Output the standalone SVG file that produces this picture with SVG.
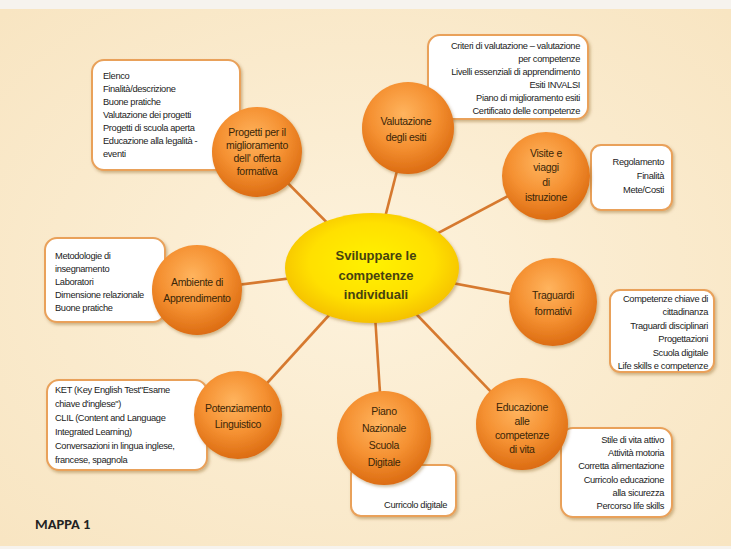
<svg xmlns="http://www.w3.org/2000/svg" width="731" height="549" viewBox="0 0 731 549">
<defs>
<radialGradient id="bg" cx="50%" cy="50%" r="70%">
<stop offset="0" stop-color="#fdf2dc"/>
<stop offset="1" stop-color="#f8e5c2"/>
</radialGradient>
<radialGradient id="orb" cx="45%" cy="35%" r="65%">
<stop offset="0" stop-color="#ffb45e"/>
<stop offset="0.55" stop-color="#f59132"/>
<stop offset="1" stop-color="#dc6c12"/>
</radialGradient>
<radialGradient id="sun" cx="50%" cy="45%" r="60%">
<stop offset="0" stop-color="#fff200"/>
<stop offset="0.6" stop-color="#ffe000"/>
<stop offset="1" stop-color="#f2b800"/>
</radialGradient>
<filter id="sh" x="-20%" y="-20%" width="140%" height="140%">
<feDropShadow dx="1.5" dy="2" stdDeviation="1.5" flood-color="#7a4a10" flood-opacity="0.35"/>
</filter>
</defs>
<style>
.box{fill:#fff;stroke:#e9a15a;stroke-width:2;filter:url(#sh)}
.orb{fill:url(#orb);filter:url(#sh)}
.ot{font-family:"Liberation Sans",Arial,sans-serif;font-size:10.5px;letter-spacing:-0.3px;fill:#3a2608;text-anchor:middle}
.bt{font-family:"Liberation Sans",Arial,sans-serif;font-size:9.3px;letter-spacing:-0.35px;fill:#222}
.r{text-anchor:end}
.con line{stroke:#d6792f;stroke-width:2.6}
.ct{font-family:"Liberation Sans",Arial,sans-serif;font-size:13px;font-weight:bold;fill:#46420f;text-anchor:middle}
</style>
<rect x="0" y="0" width="731" height="549" fill="#f6f3ee"/>
<rect x="0" y="9" width="731" height="537" fill="url(#bg)"/>

<g id="connectors" class="con">
<line x1="372" y1="268" x2="257" y2="152"/>
<line x1="372" y1="268" x2="408" y2="128"/>
<line x1="372" y1="268" x2="546" y2="176"/>
<line x1="372" y1="268" x2="197" y2="290"/>
<line x1="372" y1="268" x2="553" y2="302"/>
<line x1="372" y1="268" x2="238" y2="415"/>
<line x1="372" y1="268" x2="383" y2="440"/>
<line x1="372" y1="268" x2="522" y2="424"/>
</g>

<g id="center">
<ellipse cx="372" cy="268" rx="87" ry="55" fill="url(#sun)" filter="url(#sh)"/>
<text class="ct" x="376" y="260">Sviluppare le</text>
<text class="ct" x="376" y="280">competenze</text>
<text class="ct" x="376" y="299">individuali</text>
</g>

<g id="progetti">
<rect class="box" x="92" y="60" width="148" height="110" rx="12"/>
<text class="bt" x="103" y="79">Elenco</text>
<text class="bt" x="103" y="92">Finalità/descrizione</text>
<text class="bt" x="103" y="105">Buone pratiche</text>
<text class="bt" x="103" y="118">Valutazione dei progetti</text>
<text class="bt" x="103" y="131">Progetti di scuola aperta</text>
<text class="bt" x="103" y="144">Educazione alla legalità -</text>
<text class="bt" x="103" y="157">eventi</text>
<circle class="orb" cx="257" cy="152" r="45"/>
<text class="ot" x="257" y="136">Progetti per il</text>
<text class="ot" x="257" y="149">miglioramento</text>
<text class="ot" x="257" y="162">dell' offerta</text>
<text class="ot" x="257" y="175">formativa</text>
</g>

<g id="valutazione">
<rect class="box" x="428" y="35" width="160" height="84" rx="12"/>
<text class="bt r" x="580" y="49">Criteri di valutazione – valutazione</text>
<text class="bt r" x="580" y="62">per competenze</text>
<text class="bt r" x="580" y="75">Livelli essenziali di apprendimento</text>
<text class="bt r" x="580" y="88">Esiti INVALSI</text>
<text class="bt r" x="580" y="101">Piano di miglioramento esiti</text>
<text class="bt r" x="580" y="114">Certificato delle competenze</text>
<circle class="orb" cx="408" cy="128" r="46"/>
<text class="ot" x="406" y="125">Valutazione</text>
<text class="ot" x="406" y="141">degli esiti</text>
</g>

<g id="visite">
<rect class="box" x="591" y="145" width="81" height="65" rx="10"/>
<text class="bt r" x="664" y="165">Regolamento</text>
<text class="bt r" x="664" y="179">Finalità</text>
<text class="bt r" x="664" y="193">Mete/Costi</text>
<circle class="orb" cx="546" cy="176" r="44"/>
<text class="ot" x="546" y="157">Visite e</text>
<text class="ot" x="546" y="171">viaggi</text>
<text class="ot" x="546" y="186">di</text>
<text class="ot" x="546" y="201">istruzione</text>
</g>

<g id="ambiente">
<rect class="box" x="45" y="238" width="120" height="84" rx="12"/>
<text class="bt" x="55" y="259">Metodologie di</text>
<text class="bt" x="55" y="272">insegnamento</text>
<text class="bt" x="55" y="285">Laboratori</text>
<text class="bt" x="55" y="298">Dimensione relazionale</text>
<text class="bt" x="55" y="311">Buone pratiche</text>
<circle class="orb" cx="197" cy="290" r="45"/>
<text class="ot" x="197" y="286">Ambiente di</text>
<text class="ot" x="197" y="302">Apprendimento</text>
</g>

<g id="traguardi">
<rect class="box" x="610" y="290" width="104" height="82" rx="10"/>
<text class="bt r" x="708" y="302">Competenze chiave di</text>
<text class="bt r" x="708" y="315">cittadinanza</text>
<text class="bt r" x="708" y="329">Traguardi disciplinari</text>
<text class="bt r" x="708" y="342">Progettazioni</text>
<text class="bt r" x="708" y="356">Scuola digitale</text>
<text class="bt r" x="708" y="369">Life skills e competenze</text>
<circle class="orb" cx="553" cy="302" r="44"/>
<text class="ot" x="553" y="299">Traguardi</text>
<text class="ot" x="553" y="315">formativi</text>
</g>

<g id="potenziamento">
<rect class="box" x="47" y="380" width="160" height="90" rx="12"/>
<text class="bt" x="55" y="393">KET (Key English Test"Esame</text>
<text class="bt" x="55" y="407">chiave d'inglese")</text>
<text class="bt" x="55" y="421">CLIL (Content and Language</text>
<text class="bt" x="55" y="435">Integrated Learning)</text>
<text class="bt" x="55" y="449">Conversazioni in lingua inglese,</text>
<text class="bt" x="55" y="463">francese, spagnola</text>
<circle class="orb" cx="238" cy="415" r="44"/>
<text class="ot" x="238" y="412">Potenziamento</text>
<text class="ot" x="238" y="428">Linguistico</text>
</g>

<g id="piano">
<rect class="box" x="351" y="465" width="105" height="51" rx="10"/>
<text class="bt r" x="447" y="508">Curricolo digitale</text>
<circle class="orb" cx="384" cy="438" r="47"/>
<text class="ot" x="384" y="415">Piano</text>
<text class="ot" x="384" y="432">Nazionale</text>
<text class="ot" x="384" y="449">Scuola</text>
<text class="ot" x="384" y="466">Digitale</text>
</g>

<g id="educazione">
<rect class="box" x="561" y="428" width="111" height="89" rx="12"/>
<text class="bt r" x="664" y="443">Stile di vita attivo</text>
<text class="bt r" x="664" y="456">Attività motoria</text>
<text class="bt r" x="664" y="469">Corretta alimentazione</text>
<text class="bt r" x="664" y="483">Curricolo educazione</text>
<text class="bt r" x="664" y="496">alla sicurezza</text>
<text class="bt r" x="664" y="509">Percorso life skills</text>
<circle class="orb" cx="522" cy="424" r="46"/>
<text class="ot" x="522" y="411">Educazione</text>
<text class="ot" x="522" y="425">alle</text>
<text class="ot" x="522" y="439">competenze</text>
<text class="ot" x="522" y="453">di vita</text>
</g>

<text x="35" y="529" font-family="Carlito,'Liberation Sans',sans-serif" font-size="14.5" font-weight="bold" fill="#222">MAPPA 1</text>
</svg>
